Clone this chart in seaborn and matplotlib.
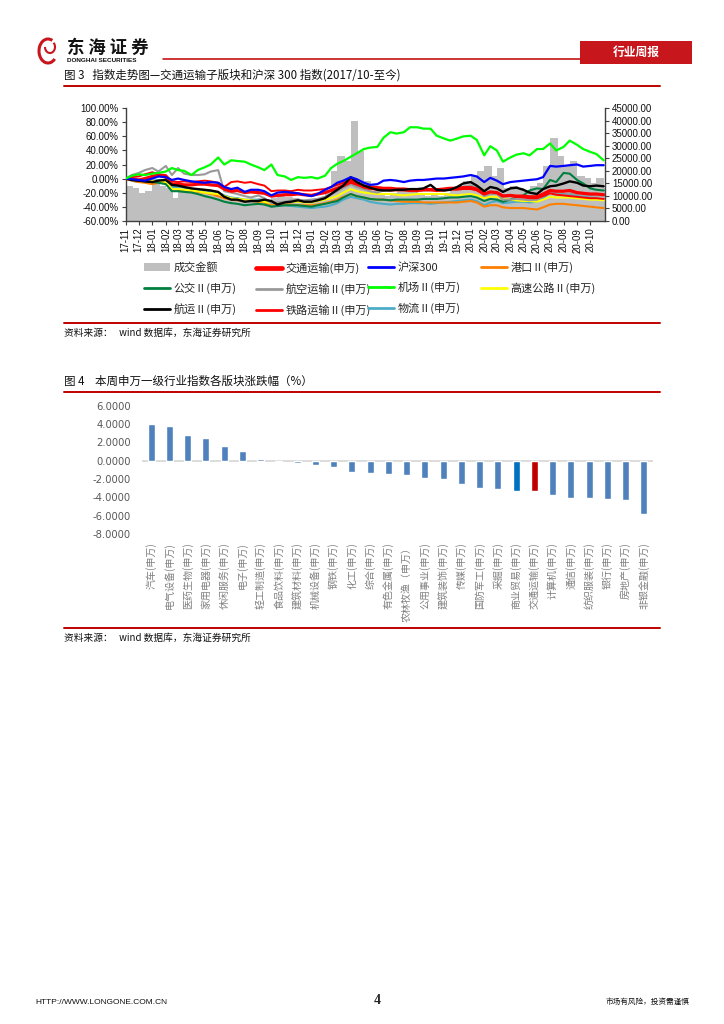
import numpy as np
import pandas as pd
import matplotlib
matplotlib.use("Agg")
import matplotlib.pyplot as plt
from matplotlib.lines import Line2D
from matplotlib.patches import Rectangle, Patch, Arc
import seaborn as sns

sns.set_style("white")
plt.rcParams["font.family"] = ["Noto Sans CJK SC", "DejaVu Sans"]
plt.rcParams["axes.unicode_minus"] = False

CJK = ["Noto Sans CJK SC", "DejaVu Sans"]
LAT = ["Liberation Sans", "DejaVu Sans"]

# ---------------- chart 1 data (semi-monthly, 2017-11 .. 2020-11) ----------------
dates = pd.date_range("2017-11-01", periods=73, freq="SMS")
month_labels = ["17-11", "17-12", "18-01", "18-02", "18-03", "18-04", "18-05", "18-06",
                "18-07", "18-08", "18-09", "18-10", "18-11", "18-12", "19-01", "19-02",
                "19-03", "19-04", "19-05", "19-06", "19-07", "19-08", "19-09", "19-10",
                "19-11", "19-12", "20-01", "20-02", "20-03", "20-04", "20-05", "20-06",
                "20-07", "20-08", "20-09", "20-10"]

turnover = [14000, 13000, 11000, 12000, 15000, 14000, 13000, 9000, 12000, 11000,
            11000, 12000, 11000, 10000, 10000, 9000, 9000, 8500, 8000, 8500,
            9000, 8000, 9000, 10000, 9500, 9000, 8000, 7500, 8000, 9000,
            11000, 20000, 26000, 24000, 40000, 28000, 16000, 12000, 11000, 10000,
            11000, 12000, 13000, 12000, 11000, 10000, 11000, 10000, 11000, 13000,
            14000, 16000, 18000, 20000, 22000, 18000, 21000, 13000, 14000, 13000,
            12000, 14000, 15000, 22000, 33000, 26000, 22000, 24000, 18000, 17000,
            15000, 17000, 13000]

transport = [0, -1, -2, 0, 3, 5, 2, -8, -8, -9,
             -9, -8, -8, -9, -10, -15, -18, -17, -20, -19,
             -20, -21, -25, -24, -23, -23, -22, -23, -24, -22,
             -20, -17, -14, -10, -5, -8, -12, -14, -15, -15,
             -16, -16, -16, -17, -17, -16, -16, -17, -16, -15,
             -15, -14, -14, -16, -22, -19, -20, -25, -24, -25,
             -25, -26, -26, -22, -17, -18, -18, -17, -20, -21,
             -22, -22, -23]

hs300 = [0, -1, -2, -3, 0, 3, 2, -2, 0, -2,
         -4, -5, -6, -5, -6, -12, -15, -13, -19, -16,
         -16, -18, -24, -20, -19, -20, -21, -23, -25, -22,
         -16, -12, -6, -3, 2, -1, -6, -9, -8, -3,
         -2, -3, -5, -3, -2, -2, -1, 0, 0, 1,
         2, 3, 5, 3, -5, 1, -3, -8, -5, -4,
         -3, -2, -1, 2, 18, 17, 18, 19, 20, 17,
         18, 19, 19]

port = [0, -3, -5, -6, -8, -6, -5, -15, -16, -17,
        -18, -19, -20, -22, -25, -28, -30, -31, -32, -32,
        -33, -34, -37, -37, -37, -37, -38, -38, -38, -37,
        -35, -33, -30, -26, -22, -25, -27, -29, -30, -30,
        -31, -32, -33, -33, -33, -34, -34, -34, -34, -34,
        -34, -33, -32, -34, -40, -38, -38, -41, -42, -42,
        -42, -43, -44, -41, -37, -36, -36, -37, -38, -39,
        -40, -41, -42]

bus = [0, -2, -3, -4, -5, -6, -8, -18, -18, -19,
       -20, -22, -25, -27, -30, -33, -35, -36, -38, -37,
       -36, -37, -40, -39, -38, -38, -38, -39, -40, -38,
       -36, -34, -32, -27, -22, -25, -27, -29, -30, -30,
       -31, -30, -30, -30, -30, -29, -29, -29, -28, -27,
       -27, -26, -25, -27, -32, -29, -30, -33, -30, -27,
       -24, -17, -14, -15, -2, -5, 8, 7, -2, -7,
       -14, -16, -17]

airline = [0, 5, 8, 12, 15, 10, 18, 5, 15, 7,
           5, 5, 6, 10, 12, -18, -20, -22, -25, -27,
           -24, -28, -35, -34, -33, -31, -30, -31, -30, -29,
           -26, -22, -18, -13, -8, -12, -15, -18, -20, -17,
           -15, -16, -17, -18, -18, -17, -17, -16, -15, -14,
           -14, -12, -10, -13, -25, -22, -22, -30, -30, -29,
           -30, -31, -30, -25, -20, -22, -23, -21, -22, -23,
           -24, -24, -24]

airport = [0, 4, 6, 5, 7, 8, 10, 15, 12, 11,
           5, 12, 16, 20, 30, 20, 26, 25, 24, 20,
           16, 12, 20, 5, 3, -2, 2, 1, 2, 0,
           4, 15, 21, 25, 31, 36, 42, 44, 45, 58,
           66, 64, 66, 73, 73, 71, 71, 61, 57, 54,
           57, 60, 61, 55, 33, 46, 40, 24, 30, 34,
           36, 33, 42, 42, 50, 40, 45, 54, 48, 42,
           38, 35, 26]

highway = [0, -1, -2, -2, -3, -4, -5, -15, -15, -16,
           -17, -18, -20, -21, -22, -25, -28, -29, -30, -31,
           -32, -33, -35, -35, -34, -33, -33, -34, -34, -32,
           -30, -28, -25, -20, -15, -18, -20, -21, -22, -22,
           -22, -23, -24, -23, -22, -22, -22, -22, -22, -23,
           -24, -23, -22, -24, -28, -26, -26, -29, -30, -31,
           -32, -32, -33, -30, -26, -27, -27, -27, -28, -29,
           -30, -30, -31]

shipping = [0, -2, -3, -4, -5, -3, -2, -9, -10, -12,
            -14, -15, -16, -17, -19, -26, -30, -30, -33, -32,
            -32, -30, -32, -37, -34, -33, -31, -33, -33, -31,
            -28, -22, -16, -10, 2, -5, -10, -13, -16, -17,
            -17, -16, -16, -15, -15, -14, -9, -16, -17, -16,
            -12, -7, -5, -10, -18, -12, -14, -19, -14, -13,
            -16, -20, -22, -15, -11, -10, -7, -4, -6, -10,
            -11, -10, -11]

railway = [0, 2, 3, 6, 9, 6, 5, -4, -5, -4,
           -5, -4, -3, -4, -6, -12, -5, -4, -6, -5,
           -8, -10, -18, -17, -17, -18, -16, -17, -17, -16,
           -15, -12, -9, -6, -2, -6, -10, -11, -12, -13,
           -13, -14, -14, -15, -16, -15, -15, -15, -14, -13,
           -13, -12, -12, -14, -22, -19, -20, -24, -25, -26,
           -27, -28, -28, -25, -21, -23, -24, -25, -26, -27,
           -28, -28, -29]

logistics = [0, -3, -5, -4, -3, -2, -2, -12, -12, -13,
             -15, -16, -17, -18, -20, -24, -27, -28, -30, -30,
             -30, -33, -40, -39, -38, -39, -40, -41, -42, -41,
             -40, -38, -35, -30, -26, -28, -30, -33, -35, -36,
             -37, -36, -36, -35, -35, -35, -36, -35, -34, -33,
             -32, -31, -30, -32, -38, -34, -32, -35, -34, -33,
             -33, -34, -33, -28, -20, -21, -22, -23, -25, -26,
             -27, -28, -30]

# ---------------- chart 2 data ----------------
industries = ["汽车(申万)", "电气设备(申万)", "医药生物(申万)", "家用电器(申万)", "休闲服务(申万)",
              "电子(申万)", "轻工制造(申万)", "食品饮料(申万)", "建筑材料(申万)", "机械设备(申万)",
              "钢铁(申万)", "化工(申万)", "综合(申万)", "有色金属(申万)", "农林牧渔（申万）",
              "公用事业(申万)", "建筑装饰(申万)", "传媒(申万)", "国防军工(申万)", "采掘(申万)",
              "商业贸易(申万)", "交通运输(申万)", "计算机(申万)", "通信(申万)", "纺织服装(申万)",
              "银行(申万)", "房地产(申万)", "非银金融(申万)"]
changes = [3.96, 3.80, 2.80, 2.44, 1.60, 1.02, 0.18, -0.10, -0.25, -0.47,
           -0.69, -1.27, -1.35, -1.45, -1.56, -1.93, -2.04, -2.55, -2.95, -3.13,
           -3.35, -3.35, -3.78, -4.04, -4.04, -4.15, -4.25, -5.82]
bar_colors = ["#0070C0" if n.startswith("商业贸易") else
              "#C00000" if n.startswith("交通运输") else "#4F81BD" for n in industries]

# ---------------- figure ----------------
W, H = 724, 1024
fig = plt.figure(figsize=(W / 100, H / 100), dpi=100)
fig.patch.set_facecolor("white")


def fx(x):
    return x / W


def fy(y):
    return 1 - y / H


def hline(x0, x1, y, color="#C00000", lw=1.4):
    fig.add_artist(Line2D([fx(x0), fx(x1)], [fy(y), fy(y)], color=color, lw=lw,
                          transform=fig.transFigure))


RED = "#C00000"

# header
fig.add_artist(Arc((fx(48), fy(51)), 18 / W, 24 / H, theta1=60, theta2=320, color="#C8161D",
                   lw=2.2, transform=fig.transFigure))
fig.add_artist(Arc((fx(50), fy(47)), 10 / W, 12 / H, theta1=180, theta2=40, color="#C8161D",
                   lw=1.5, transform=fig.transFigure))
fig.text(fx(67), fy(48), "东 海 证 券", fontsize=12.5, fontweight="bold", family=CJK,
         va="center", ha="left", color="#111111")
fig.text(fx(67), fy(60), "DONGHAI SECURITIES", fontsize=4.6, fontweight="bold", family=LAT,
         va="center", ha="left", color="#111111")
hline(163, 580, 59, color=RED, lw=1.1)
fig.add_artist(Rectangle((fx(580), fy(64)), 112 / W, 23 / H, facecolor="#C8161D",
                         edgecolor="none", transform=fig.transFigure))
fig.text(fx(636), fy(52.5), "行业周报", fontsize=8.5, fontweight="bold", family=CJK,
         color="white", ha="center", va="center")

# chart 1 title
fig.text(fx(64), fy(75), "图 3   指数走势图—交通运输子版块和沪深 300 指数(2017/10-至今)",
         fontsize=8.3, family=CJK, ha="left", va="center", color="#111111")
hline(64, 660, 86, lw=1.4)

# chart 1 axes
axb = fig.add_axes([fx(125.7), fy(220.7), fx(605) - fx(125.7), (220.7 - 108.3) / H])
axl = axb.twinx()
axb.bar(dates, turnover, width=17.5, align="edge", color="#BFBFBF", linewidth=0, zorder=1)
axb.set_ylim(0, 45000)
axb.yaxis.tick_right()
axb.yaxis.set_label_position("right")
axl.yaxis.tick_left()
axl.yaxis.set_label_position("left")

series = [
    (logistics, "物流Ⅱ(申万)", "#4BACC6", 1.5),
    (port, "港口Ⅱ(申万)", "#FF8000", 1.5),
    (highway, "高速公路Ⅱ(申万)", "#FFFF00", 1.5),
    (bus, "公交Ⅱ(申万)", "#008040", 1.5),
    (airline, "航空运输Ⅱ(申万)", "#999999", 1.5),
    (railway, "铁路运输Ⅱ(申万)", "#FF0000", 1.4),
    (transport, "交通运输(申万)", "#FF0000", 2.3),
    (shipping, "航运Ⅱ(申万)", "#000000", 1.7),
    (hs300, "沪深300", "#0000FF", 1.6),
    (airport, "机场Ⅱ(申万)", "#00FF00", 1.6),
]
for vals, name, col, lw in series:
    sns.lineplot(x=dates, y=vals, ax=axl, color=col, linewidth=lw, legend=False)

axl.set_ylim(-60, 100)
xmin, xmax = pd.Timestamp("2017-11-01"), pd.Timestamp("2020-11-04")

left_ticks = np.arange(-60, 101, 20)
axl.set_yticks(left_ticks)
axl.set_yticklabels([f"{v:.2f}%" for v in left_ticks], family=LAT, fontsize=7)
right_ticks = np.arange(0, 45001, 5000)
axb.set_yticks(right_ticks)
axb.set_yticklabels([f"{v:.2f}" for v in right_ticks], family=LAT, fontsize=7)

tick_pos = pd.date_range("2017-11-01", periods=len(month_labels), freq="MS")
axb.set_xticks(tick_pos)
axb.set_xticklabels(month_labels, rotation=90, family=LAT, fontsize=7)
axb.set_xlim(xmin, xmax)
axl.tick_params(axis="x", bottom=False, top=False, labelbottom=False, labeltop=False)

for a in (axb, axl):
    for s in a.spines.values():
        s.set_visible(False)
    a.grid(False)
axb.patch.set_visible(False)
axl.patch.set_visible(False)
for side in ("left", "right", "bottom"):
    axb.spines[side].set_visible(True)
    axb.spines[side].set_color("#404040")
    axb.spines[side].set_linewidth(1.0)
axb.tick_params(axis="y", right=True, left=False, direction="out", length=3, width=0.8,
                color="#404040", pad=2, labelcolor="#111111")
axb.tick_params(axis="x", bottom=True, labelbottom=True, direction="out", length=3,
                width=0.8, color="#404040", pad=2, labelcolor="#111111")
axl.tick_params(axis="y", left=True, right=False, direction="out", length=3, width=0.8,
                color="#404040", pad=2, labelcolor="#111111")
axl.set_xlabel("")
axl.set_ylabel("")
axb.set_ylabel("")
axb.set_xlabel("")

# legend (4 columns placed manually)
h = {name: Line2D([], [], color=col, lw=(3.4 if name.startswith("交通运输") else 2.0))
     for vals, name, col, lw in series}
h["成交金额"] = Patch(facecolor="#BFBFBF", edgecolor="none")
columns = [
    (144, ["成交金额", "公交Ⅱ(申万)", "航运Ⅱ(申万)"]),
    (256, ["交通运输(申万)", "航空运输Ⅱ(申万)", "铁路运输Ⅱ(申万)"]),
    (368, ["沪深300", "机场Ⅱ(申万)", "物流Ⅱ(申万)"]),
    (481, ["港口Ⅱ(申万)", "高速公路Ⅱ(申万)"]),
]
for x0, names in columns:
    fig.legend([h[n] for n in names], names, loc="upper left",
               bbox_to_anchor=(fx(x0), fy(262)), frameon=False,
               prop={"family": CJK, "size": 8}, handlelength=2.3, handleheight=0.7,
               handletextpad=0.35, labelspacing=0.85, borderpad=0, borderaxespad=0)

hline(64, 660, 323, lw=1.4)
fig.text(fx(64), fy(333), "资料来源：   wind 数据库，东海证券研究所", fontsize=7,
         family=CJK, ha="left", va="center", color="#111111")

# chart 2 title
fig.text(fx(64), fy(381), "图 4    本周申万一级行业指数各版块涨跌幅（%）", fontsize=8.3,
         family=CJK, ha="left", va="center", color="#111111")
hline(64, 660, 392, lw=1.4)

ax2 = fig.add_axes([fx(142), fy(534), fx(653) - fx(142), (534 - 405.7) / H])
sns.barplot(x=industries, y=changes, hue=industries, palette=bar_colors, legend=False,
            width=0.37, saturation=1, ax=ax2, zorder=2)
ax2.axhline(0, color="#D9D9D9", lw=1.3, zorder=1)
ax2.set_xlim(-0.5, len(industries) - 0.5)
ax2.set_ylim(-8, 6)
yt = np.arange(-8, 7, 2)
ax2.set_yticks(yt)
ax2.set_yticklabels([f"{v:.4f}" for v in yt], family=["DejaVu Sans"], fontsize=7.2,
                    color="#595959")
ax2.set_xticks(range(len(industries)))
ax2.set_xticklabels(industries, rotation=90, family=CJK, fontsize=7.2, color="#7F7F7F")
ax2.tick_params(axis="both", length=0)
ax2.tick_params(axis="x", pad=6)
ax2.tick_params(axis="y", pad=8)
for s in ax2.spines.values():
    s.set_visible(False)
ax2.grid(False)
ax2.set_xlabel("")
ax2.set_ylabel("")
ax2.patch.set_visible(False)

hline(64, 660, 628, lw=1.4)
fig.text(fx(64), fy(638), "资料来源：   wind 数据库，东海证券研究所", fontsize=7,
         family=CJK, ha="left", va="center", color="#111111")

# footer
fig.text(fx(35), fy(1002), "HTTP://WWW.LONGONE.COM.CN", fontsize=6, family=LAT,
         ha="left", va="center", color="#111111")
fig.text(fx(377), fy(1001), "4", fontsize=10, fontweight="bold",
         family=["Liberation Serif", "DejaVu Serif"], ha="center", va="center")
fig.text(fx(690), fy(1002), "市场有风险，投资需谨慎", fontsize=5.5, family=CJK,
         ha="right", va="center", color="#111111")

fig.savefig("out.png", dpi=100, facecolor="white")
